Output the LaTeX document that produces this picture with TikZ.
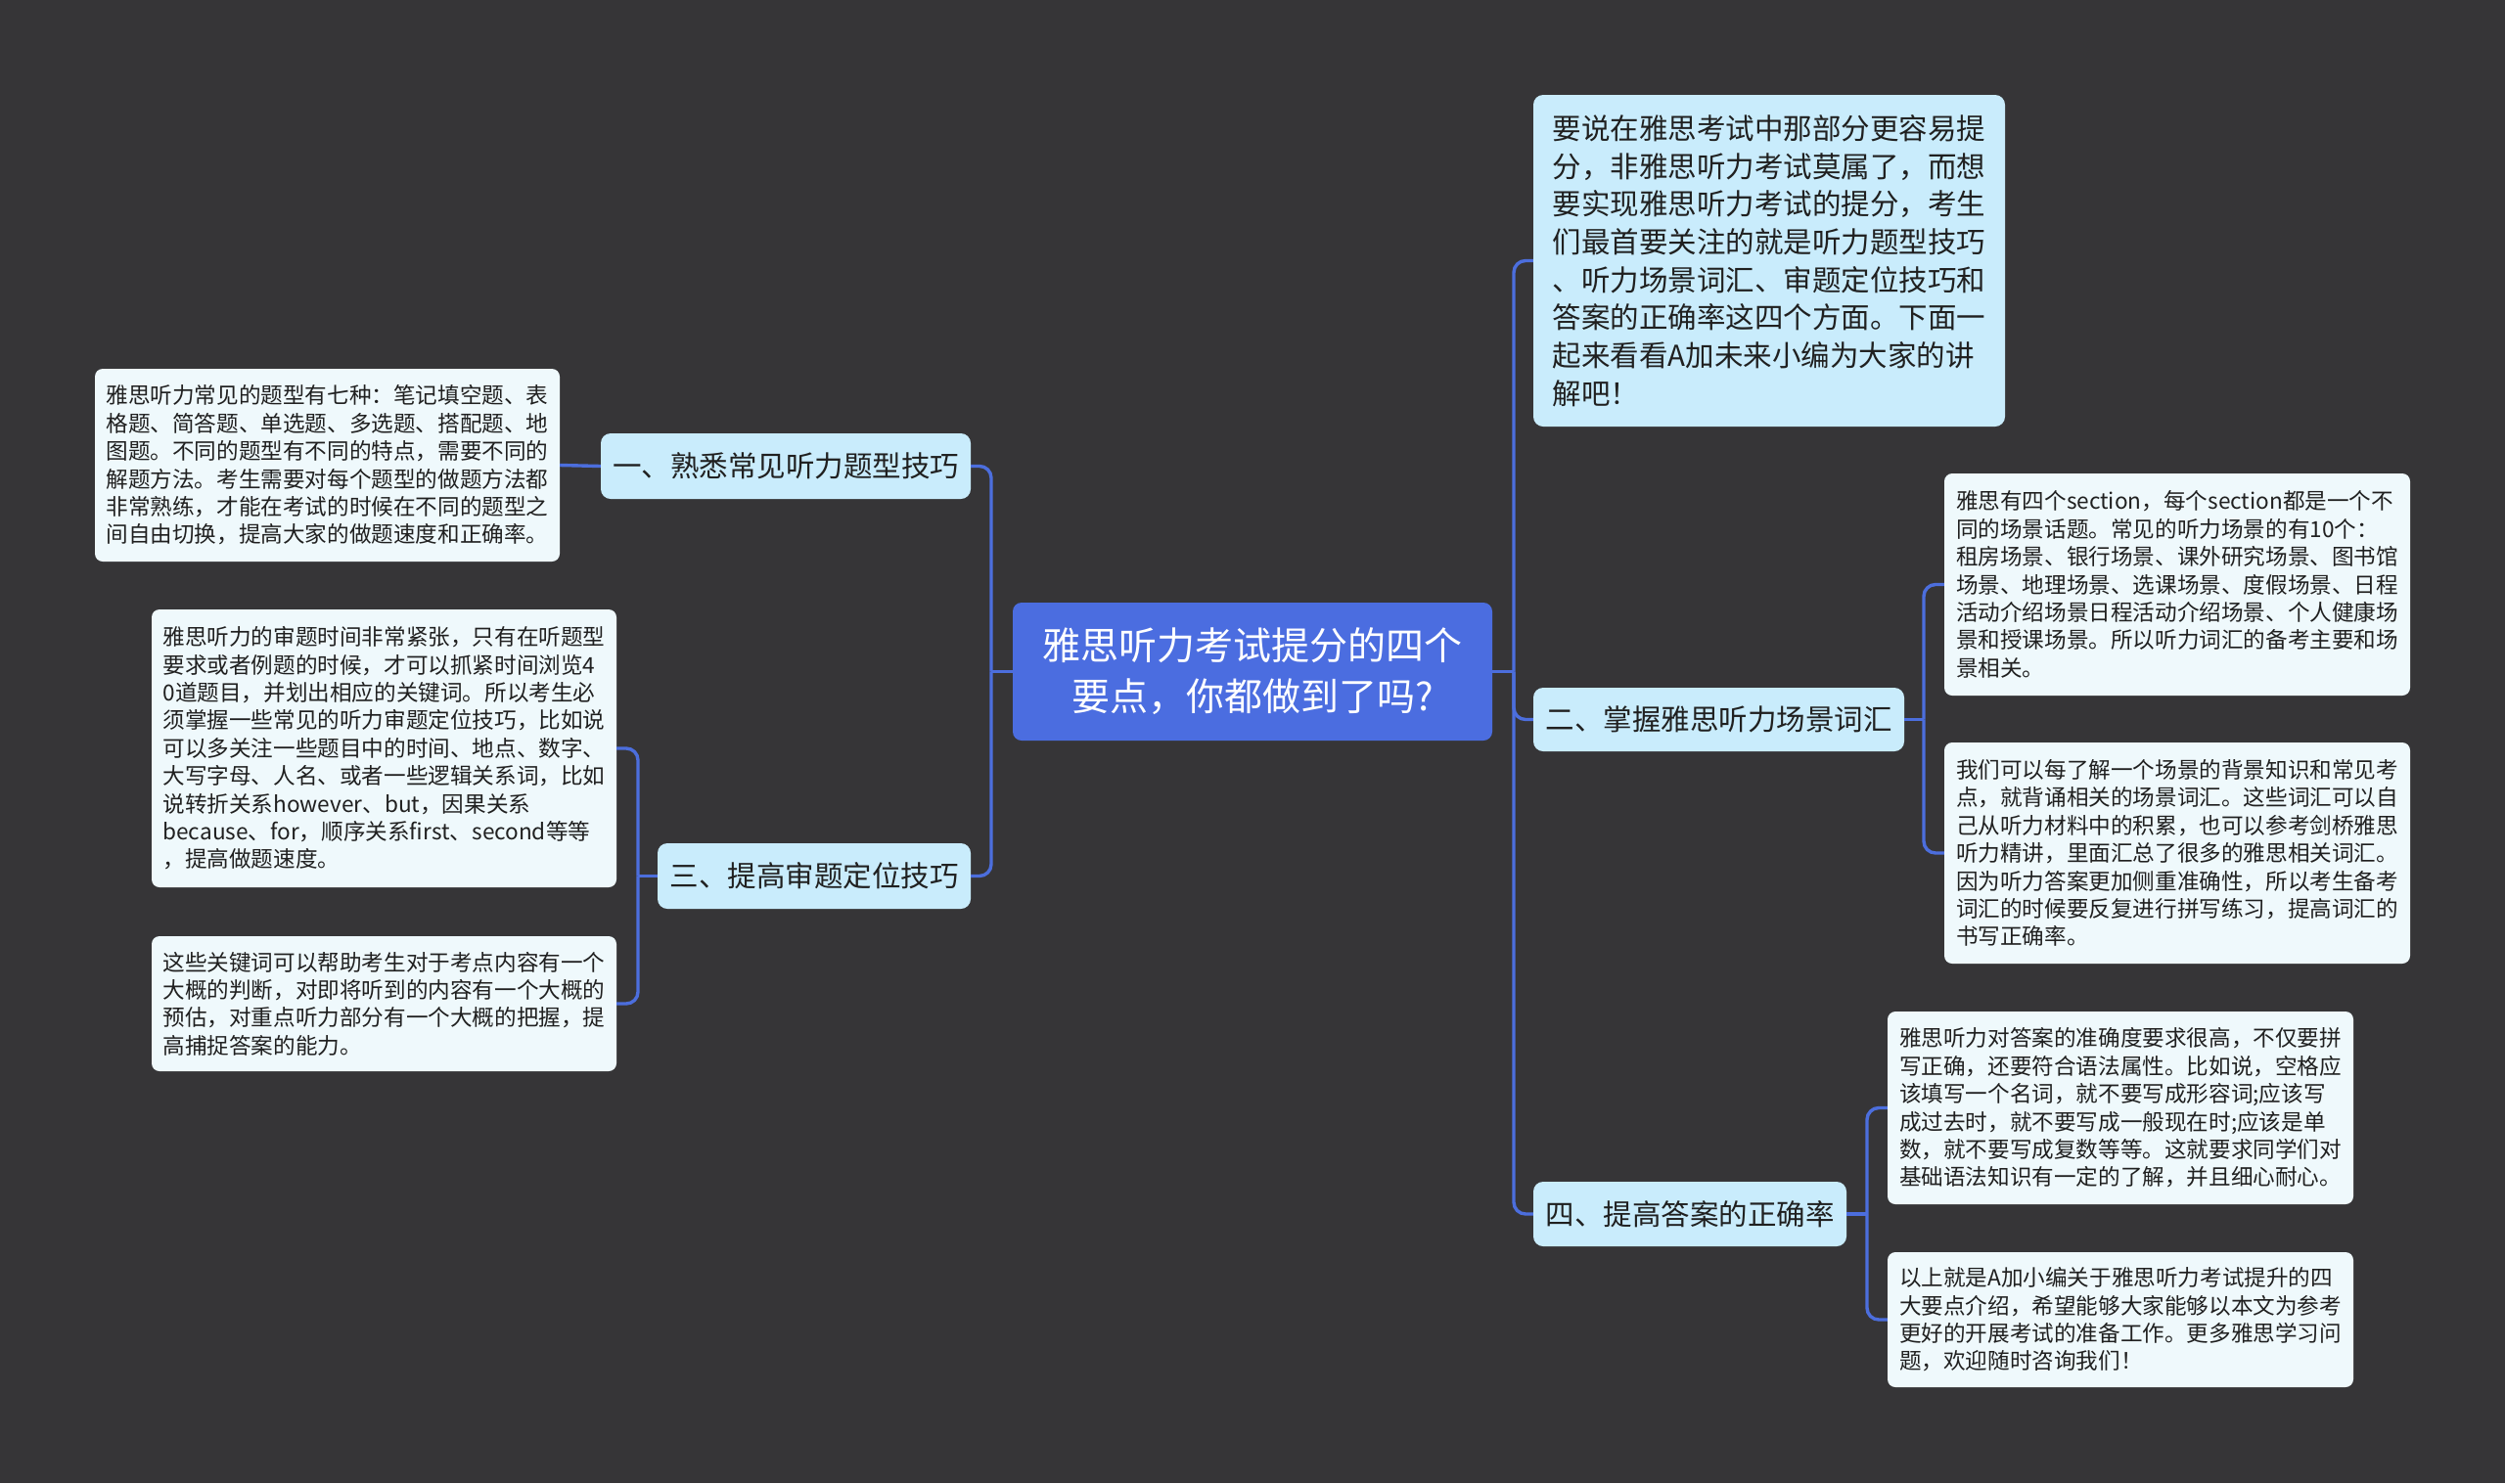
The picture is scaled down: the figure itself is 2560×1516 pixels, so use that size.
\documentclass[tikz,border=0pt]{standalone}
\usepackage{fontspec}
\setmainfont{Noto Sans CJK SC}
\definecolor{bgcol}{HTML}{363537}
\definecolor{linkblue}{HTML}{4C6EDD}
\definecolor{rootblue}{HTML}{4B6DE0}
\definecolor{topicfill}{HTML}{C9ECFC}
\definecolor{leaffill}{HTML}{EFF9FC}
\definecolor{txt}{HTML}{202020}
\tikzset{
  conn/.style={draw=linkblue, line width=3.4pt, rounded corners=12pt},
  rootbox/.style={fill=rootblue, rounded corners=9pt, text=white, align=center,
    font=\fontsize{39}{52}\selectfont, inner sep=0pt},
  topicbox/.style={fill=topicfill, rounded corners=10pt, text=txt, align=center,
    font=\fontsize{29.5}{38.7}\selectfont, inner sep=0pt},
  bigbox/.style={topicbox, align=left},
  leafbox/.style={fill=leaffill, rounded corners=8pt, text=txt, align=left,
    font=\fontsize{22.6}{28.4}\selectfont, inner sep=0pt},
}
\begin{document}
\begin{tikzpicture}[x=1pt,y=-1pt]
\fill[bgcol] (0,0) rectangle (2560,1516);
\useasboundingbox (0,0) rectangle (2560,1516);

% root
\node[rootbox, minimum width=490pt, minimum height=141pt] (root) at (1280,686.5)
  {雅思听力考试提分的四个\\要点，你都做到了吗?};

% level 1
\node[topicbox, minimum width=378pt, minimum height=67pt] (b1) at (803,476.5)
  {一、熟悉常见听力题型技巧};
\node[topicbox, minimum width=320pt, minimum height=67pt] (b3) at (832,895.5)
  {三、提高审题定位技巧};
\node[bigbox, minimum width=482pt, minimum height=339pt] (big) at (1808,266.5)
  {要说在雅思考试中那部分更容易提\\分，非雅思听力考试莫属了，而想\\要实现雅思听力考试的提分，考生\\们最首要关注的就是听力题型技巧\\、听力场景词汇、审题定位技巧和\\答案的正确率这四个方面。下面一\\起来看看A加未来小编为大家的讲\\解吧！};
\node[topicbox, minimum width=379pt, minimum height=65pt] (b2) at (1756.5,735.5)
  {二、掌握雅思听力场景词汇};
\node[topicbox, minimum width=320pt, minimum height=66pt] (b4) at (1727,1241)
  {四、提高答案的正确率};

% leaves
\node[leafbox, minimum width=475pt, minimum height=197pt] (l1) at (334.5,475.5)
  {雅思听力常见的题型有七种：笔记填空题、表\\格题、简答题、单选题、多选题、搭配题、地\\图题。不同的题型有不同的特点，需要不同的\\解题方法。考生需要对每个题型的做题方法都\\非常熟练，才能在考试的时候在不同的题型之\\间自由切换，提高大家的做题速度和正确率。};
\node[leafbox, minimum width=475pt, minimum height=284pt] (la) at (392.5,765)
  {雅思听力的审题时间非常紧张，只有在听题型\\要求或者例题的时候，才可以抓紧时间浏览4\\0道题目，并划出相应的关键词。所以考生必\\须掌握一些常见的听力审题定位技巧，比如说\\可以多关注一些题目中的时间、地点、数字、\\大写字母、人名、或者一些逻辑关系词，比如\\说转折关系however、but，因果关系\\because、for，顺序关系first、second等等\\，提高做题速度。};
\node[leafbox, minimum width=475pt, minimum height=138pt] (lb) at (392.5,1026)
  {这些关键词可以帮助考生对于考点内容有一个\\大概的判断，对即将听到的内容有一个大概的\\预估，对重点听力部分有一个大概的把握，提\\高捕捉答案的能力。};
\node[leafbox, minimum width=476pt, minimum height=227pt] (lc) at (2225,597.5)
  {雅思有四个section，每个section都是一个不\\同的场景话题。常见的听力场景的有10个：\\租房场景、银行场景、课外研究场景、图书馆\\场景、地理场景、选课场景、度假场景、日程\\活动介绍场景日程活动介绍场景、个人健康场\\景和授课场景。所以听力词汇的备考主要和场\\景相关。};
\node[leafbox, minimum width=476pt, minimum height=226pt] (ld) at (2225,872)
  {我们可以每了解一个场景的背景知识和常见考\\点，就背诵相关的场景词汇。这些词汇可以自\\己从听力材料中的积累，也可以参考剑桥雅思\\听力精讲，里面汇总了很多的雅思相关词汇。\\因为听力答案更加侧重准确性，所以考生备考\\词汇的时候要反复进行拼写练习，提高词汇的\\书写正确率。};
\node[leafbox, minimum width=476pt, minimum height=197pt] (le) at (2167,1132.5)
  {雅思听力对答案的准确度要求很高，不仅要拼\\写正确，还要符合语法属性。比如说，空格应\\该填写一个名词，就不要写成形容词;应该写\\成过去时，就不要写成一般现在时;应该是单\\数，就不要写成复数等等。这就要求同学们对\\基础语法知识有一定的了解，并且细心耐心。};
\node[leafbox, minimum width=476pt, minimum height=138pt] (lf) at (2167,1349)
  {以上就是A加小编关于雅思听力考试提升的四\\大要点介绍，希望能够大家能够以本文为参考\\更好的开展考试的准备工作。更多雅思学习问\\题，欢迎随时咨询我们！};

% junctions
\coordinate (rj) at (1547,686.5);
\coordinate (lj) at (1013,686.5);
\coordinate (j3) at (652,895.5);
\coordinate (j2) at (1966,735.5);
\coordinate (j4) at (1908,1241);

% connectors
\draw[conn] (root.east) -- (rj);
\draw[conn] (rj) |- (big.west);
\draw[conn] (rj) |- (b2.west);
\draw[conn] (rj) |- (b4.west);
\draw[conn] (root.west) -- (lj);
\draw[conn] (lj) |- (b1.east);
\draw[conn] (lj) |- (b3.east);
\draw[conn] (b1.west) -- (l1.east);
\draw[conn] (b3.west) -- (j3);
\draw[conn] (j3) |- (la.east);
\draw[conn] (j3) |- (lb.east);
\draw[conn] (b2.east) -- (j2);
\draw[conn] (j2) |- (lc.west);
\draw[conn] (j2) |- (ld.west);
\draw[conn] (b4.east) -- (j4);
\draw[conn] (j4) |- (le.west);
\draw[conn] (j4) |- (lf.west);
\end{tikzpicture}
\end{document}
